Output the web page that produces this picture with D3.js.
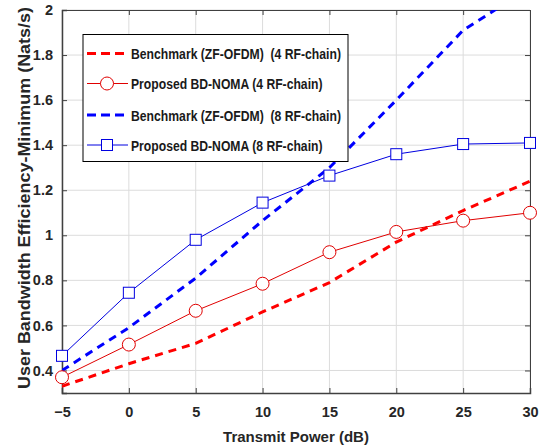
<!DOCTYPE html>
<html><head><meta charset="utf-8">
<script src="https://cdn.jsdelivr.net/npm/d3@7"></script>
<style>body{margin:0;background:#fff}svg{display:block}text{font-family:"Liberation Sans",Arial,sans-serif;font-weight:bold;white-space:pre}</style>
</head><body>
<script>
const xValues = [-5, 0, 5, 10, 15, 20, 25, 30];
const bench4 = [0.33, 0.43, 0.52, 0.66, 0.79, 0.97, 1.11, 1.24];
const prop4 = [0.37, 0.515, 0.665, 0.785, 0.925, 1.015, 1.065, 1.10];
const bench8 = [0.40, 0.59, 0.81, 1.065, 1.30, 1.60, 1.91, 2.10];
const prop8 = [0.465, 0.745, 0.98, 1.145, 1.265, 1.36, 1.405, 1.41];
const xTicks = [-5, 0, 5, 10, 15, 20, 25, 30];
const yTicks = [0.4, 0.6, 0.8, 1, 1.2, 1.4, 1.6, 1.8, 2];
const legendLabels = ["Benchmark (ZF-OFDM)  (4 RF-chain)", "Proposed BD-NOMA (4 RF-chain)", "Benchmark (ZF-OFDM)  (8 RF-chain)", "Proposed BD-NOMA (8 RF-chain)"];
const xLabel = "Transmit Power (dB)";
const yLabel = "User Bandwidth Efficiency-Minimum (Nats/s)";

const W = 543, H = 448;
const m = {l: 62, r: 13, t: 10, b: 55};
const svg = d3.select("body").append("svg").attr("width", W).attr("height", H);
const x = d3.scaleLinear().domain([-5, 30]).range([m.l, W - m.r]);
const y = d3.scaleLinear().domain([0.3, 2]).range([H - m.b, m.t]);

svg.append("defs").append("clipPath").attr("id", "clip")
  .append("rect").attr("x", m.l).attr("y", m.t).attr("width", W - m.l - m.r).attr("height", H - m.t - m.b);

// grid
svg.append("g").selectAll("line").data(xTicks).join("line")
  .attr("x1", d => x(d)).attr("x2", d => x(d)).attr("y1", m.t).attr("y2", H - m.b)
  .attr("stroke", "#dcdcdc").attr("stroke-width", 1);
svg.append("g").selectAll("line").data(yTicks).join("line")
  .attr("y1", d => y(d)).attr("y2", d => y(d)).attr("x1", m.l).attr("x2", W - m.r)
  .attr("stroke", "#dcdcdc").attr("stroke-width", 1);

// axes
const ax = svg.append("g").attr("transform", `translate(0,${H - m.b})`)
  .call(d3.axisBottom(x).tickValues(xTicks).tickSize(-5).tickPadding(14).tickFormat(d3.format("d")));
const ay = svg.append("g").attr("transform", `translate(${m.l},0)`)
  .call(d3.axisLeft(y).tickValues(yTicks).tickSize(-5).tickPadding(9).tickFormat(d => d === 1 || d === 2 ? d3.format("d")(d) : d3.format(".1f")(d)));
[ax, ay].forEach(g => {
  g.select(".domain").attr("stroke", "#404040").attr("stroke-width", 1.5);
  g.selectAll(".tick line").attr("stroke", "#404040");
  g.selectAll("text").attr("font-size", 14.5).attr("fill", "#262626").style("font-weight", "bold");
});
const axT = svg.append("g").attr("transform", `translate(0,${m.t})`).call(d3.axisTop(x).tickValues(xTicks).tickSize(-5).tickFormat(""));
const ayR = svg.append("g").attr("transform", `translate(${W - m.r},0)`).call(d3.axisRight(y).tickValues(yTicks).tickSize(-5).tickFormat(""));
[axT, ayR].forEach(g => {
  g.select(".domain").attr("stroke", "#404040").attr("stroke-width", 1);
  g.selectAll(".tick line").attr("stroke", "#404040");
});

// titles
svg.append("text").attr("x", (m.l + W - m.r) / 2).attr("y", 442).attr("text-anchor", "middle")
  .attr("font-size", 15).attr("fill", "#262626").text(xLabel);
svg.append("text").attr("transform", `translate(30,198) rotate(-90)`).attr("text-anchor", "middle")
  .attr("font-size", 16.5).attr("fill", "#262626")
  .attr("textLength", 382).attr("lengthAdjust", "spacingAndGlyphs").text(yLabel);

// series
const series = [
  {vals: bench4, color: "#ff0000", dash: true, marker: null},
  {vals: prop4, color: "#e00000", dash: false, marker: "circle"},
  {vals: bench8, color: "#0000ff", dash: true, marker: null},
  {vals: prop8, color: "#0000e0", dash: false, marker: "square"}
];
const line = d3.line().x((d, i) => x(xValues[i])).y(d => y(d));
const plot = svg.append("g").attr("clip-path", "url(#clip)");
series.forEach(s => {
  plot.append("path").datum(s.vals).attr("d", line).attr("fill", "none")
    .attr("stroke", s.color).attr("stroke-width", s.dash ? 3 : 1)
    .attr("stroke-dasharray", s.dash ? "8,6" : null);
});
series.forEach(s => {
  if (s.marker === "circle") {
    svg.append("g").selectAll("circle").data(s.vals).join("circle")
      .attr("cx", (d, i) => x(xValues[i])).attr("cy", d => y(d)).attr("r", 6.5)
      .attr("fill", "#fff").attr("stroke", s.color).attr("stroke-width", 1);
  } else if (s.marker === "square") {
    svg.append("g").selectAll("rect").data(s.vals).join("rect")
      .attr("x", (d, i) => x(xValues[i]) - 5.5).attr("y", d => y(d) - 5.5).attr("width", 11).attr("height", 11)
      .attr("fill", "#fff").attr("stroke", s.color).attr("stroke-width", 1);
  }
});

// legend
const lg = svg.append("g");
lg.append("rect").attr("x", 83).attr("y", 34.5).attr("width", 265).attr("height", 127)
  .attr("fill", "#fff").attr("stroke", "#000").attr("stroke-width", 1);
const rowY = [53.5, 83.5, 115, 145];
const textW = [210, 191.5, 210, 191.5];
series.forEach((s, i) => {
  const yy = rowY[i];
  lg.append("line").attr("x1", 87).attr("x2", 128).attr("y1", yy).attr("y2", yy)
    .attr("stroke", s.color).attr("stroke-width", s.dash ? 3 : 1).attr("stroke-dasharray", s.dash ? "9,5" : null);
  if (s.marker === "circle") lg.append("circle").attr("cx", 107).attr("cy", yy).attr("r", 6.5).attr("fill", "#fff").attr("stroke", s.color);
  if (s.marker === "square") lg.append("rect").attr("x", 101.5).attr("y", yy - 5.5).attr("width", 11).attr("height", 11).attr("fill", "#fff").attr("stroke", s.color);
  lg.append("text").attr("x", 131).attr("y", yy + 5.5).attr("font-size", 14.5).attr("fill", "#1a1a1a")
    .attr("textLength", textW[i]).attr("lengthAdjust", "spacingAndGlyphs").text(legendLabels[i]);
});
</script>
</body></html>
